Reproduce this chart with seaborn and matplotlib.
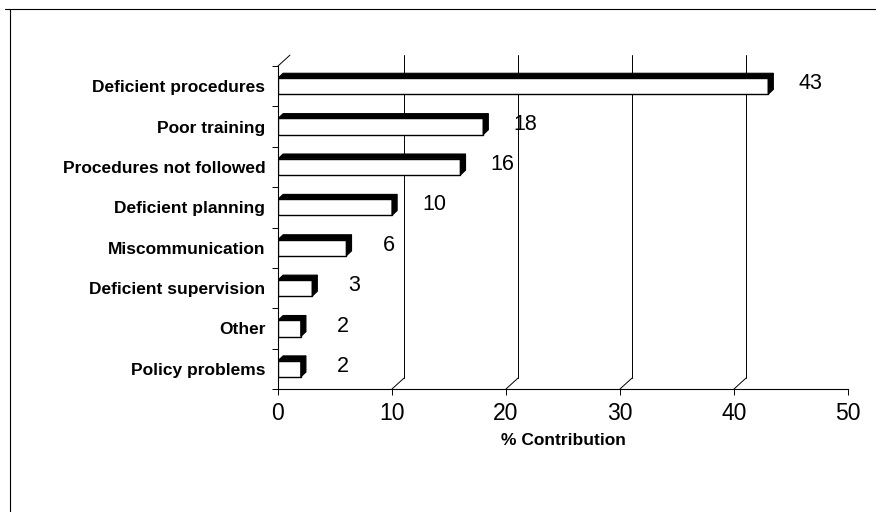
import matplotlib
matplotlib.use("Agg")
import matplotlib.pyplot as plt
import seaborn as sns
import pandas as pd
from matplotlib.patches import Polygon
from matplotlib.lines import Line2D

causes = ["Deficient procedures", "Poor training", "Procedures not followed",
          "Deficient planning", "Miscommunication", "Deficient supervision",
          "Other", "Policy problems"]
contribution = [43, 18, 16, 10, 6, 3, 2, 2]
x_ticks = [0, 10, 20, 30, 40, 50]

df = pd.DataFrame({"cause": causes, "pct": contribution})

sns.set_style("white")
plt.rcParams["font.family"] = ["Liberation Sans", "DejaVu Sans"]
plt.rcParams["text.color"] = "black"
plt.rcParams["axes.labelcolor"] = "black"
plt.rcParams["xtick.color"] = "black"
plt.rcParams["ytick.color"] = "black"

fig = plt.figure(figsize=(8.76, 5.12), dpi=100)
ax = fig.add_axes([278 / 876, 1 - 389 / 512, 570 / 876, 323 / 512])

sns.barplot(data=df, x="pct", y="cause", orient="h", color="white",
            edgecolor="black", linewidth=1.0, width=0.4, ax=ax, zorder=3)

ax.set_xlim(0, 50)
ylim = ax.get_ylim()

# 3d depth of the bars (in data units)
ddx, ddy = 0.45, -0.12
for p in ax.patches:
    x0, y0 = p.get_x(), p.get_y()
    w, h = p.get_width(), p.get_height()
    top = min(y0, y0 + h)
    bot = max(y0, y0 + h)
    top_face = [(x0, top), (x0 + w, top), (x0 + w + ddx, top + ddy), (x0 + ddx, top + ddy)]
    side_face = [(x0 + w, bot), (x0 + w, top), (x0 + w + ddx, top + ddy), (x0 + w + ddx, bot + ddy)]
    ax.add_patch(Polygon(top_face, closed=True, facecolor="black", edgecolor="black", lw=0.8, zorder=4))
    ax.add_patch(Polygon(side_face, closed=True, facecolor="black", edgecolor="black", lw=0.8, zorder=4))

# value labels
for i, v in enumerate(contribution):
    ax.text(v + 3.7, i - 0.06, str(v), ha="center", va="center", fontsize=15.5, zorder=5)

# back wall gridlines with perspective
gdx, gdy = 1.05, -0.27
y_bot, y_top = max(ylim), min(ylim)
for t in x_ticks[1:-1]:
    ax.add_line(Line2D([t + gdx, t + gdx], [y_bot + gdy, y_top + gdy], color="black",
                       lw=0.7, zorder=1, clip_on=False))
    ax.add_line(Line2D([t, t + gdx], [y_bot, y_bot + gdy], color="black", lw=0.7,
                       zorder=1, clip_on=False))
ax.add_line(Line2D([0, gdx], [y_top, y_top + gdy], color="black", lw=0.7,
                   zorder=1, clip_on=False))

ax.set_ylim(ylim)
ax.set_xticks(x_ticks)
ax.set_yticks(range(len(causes)))
ax.set_yticklabels(causes, fontsize=12.5, fontweight="bold")
ax.set_yticks([i + 0.5 for i in range(-1, len(causes))], minor=True)
ax.tick_params(axis="y", which="major", length=0, pad=9)
ax.tick_params(axis="y", which="minor", length=4, width=0.7, direction="out", left=True)
ax.tick_params(axis="x", length=4, width=0.7, direction="out", bottom=True,
               labelsize=16.5, pad=5)
ax.set_xlabel("% Contribution", fontsize=12.5, fontweight="bold", labelpad=6)
ax.set_ylabel("")

for s in ["top", "right"]:
    ax.spines[s].set_visible(False)
for s in ["left", "bottom"]:
    ax.spines[s].set_color("black")
    ax.spines[s].set_linewidth(0.8)

# outer chart frame
fig.add_artist(Line2D([5 / 876, 1.0], [1 - 9 / 512, 1 - 9 / 512], color="black", lw=0.8))
fig.add_artist(Line2D([10 / 876, 10 / 876], [1 - 9 / 512, 0.0], color="black", lw=0.8))

fig.savefig("out.png", dpi=100)
